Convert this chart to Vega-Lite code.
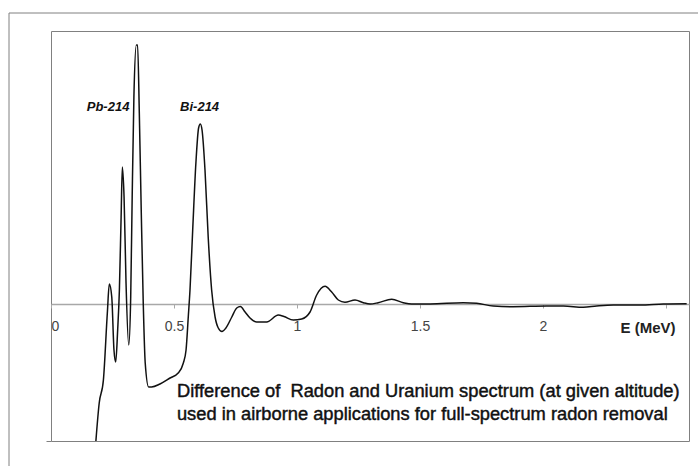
{
  "$schema": "https://vega.github.io/schema/vega-lite/v6.json",
  "autosize": "none",
  "width": 638,
  "height": 410,
  "padding": {"left": 51, "top": 31, "right": 9, "bottom": 25},
  "background": "white",
  "config": {
    "view": {"stroke": "#808080", "strokeWidth": 1},
    "font": "Liberation Sans"
  },
  "datasets": {
    "spectrum": [
      {"E": 0.180, "diff": -145},
      {"E": 0.196, "diff": -99},
      {"E": 0.213, "diff": -76},
      {"E": 0.229, "diff": -9},
      {"E": 0.237, "diff": 20},
      {"E": 0.247, "diff": 7},
      {"E": 0.256, "diff": -46},
      {"E": 0.263, "diff": -58},
      {"E": 0.271, "diff": -26},
      {"E": 0.278, "diff": 14},
      {"E": 0.285, "diff": 87},
      {"E": 0.290, "diff": 137},
      {"E": 0.297, "diff": 107},
      {"E": 0.305, "diff": 21},
      {"E": 0.316, "diff": -41},
      {"E": 0.324, "diff": 7},
      {"E": 0.330, "diff": 107},
      {"E": 0.337, "diff": 207},
      {"E": 0.347, "diff": 259},
      {"E": 0.352, "diff": 259},
      {"E": 0.359, "diff": 191},
      {"E": 0.367, "diff": 91},
      {"E": 0.375, "diff": 1},
      {"E": 0.383, "diff": -59},
      {"E": 0.397, "diff": -83},
      {"E": 0.409, "diff": -83},
      {"E": 0.443, "diff": -80},
      {"E": 0.484, "diff": -74},
      {"E": 0.517, "diff": -69},
      {"E": 0.538, "diff": -59},
      {"E": 0.549, "diff": -46},
      {"E": 0.558, "diff": -13},
      {"E": 0.565, "diff": 14},
      {"E": 0.576, "diff": 74},
      {"E": 0.589, "diff": 141},
      {"E": 0.600, "diff": 176},
      {"E": 0.607, "diff": 180},
      {"E": 0.614, "diff": 174},
      {"E": 0.626, "diff": 134},
      {"E": 0.639, "diff": 67},
      {"E": 0.653, "diff": 14},
      {"E": 0.667, "diff": -13},
      {"E": 0.680, "diff": -24},
      {"E": 0.695, "diff": -27.5},
      {"E": 0.711, "diff": -24},
      {"E": 0.735, "diff": -13},
      {"E": 0.755, "diff": -4},
      {"E": 0.770, "diff": -2.5},
      {"E": 0.789, "diff": -8},
      {"E": 0.809, "diff": -14},
      {"E": 0.836, "diff": -18},
      {"E": 0.877, "diff": -18},
      {"E": 0.924, "diff": -11},
      {"E": 0.947, "diff": -12.5},
      {"E": 0.985, "diff": -16},
      {"E": 1.019, "diff": -15},
      {"E": 1.053, "diff": -8},
      {"E": 1.080, "diff": 9},
      {"E": 1.114, "diff": 17.7},
      {"E": 1.141, "diff": 12},
      {"E": 1.168, "diff": 4},
      {"E": 1.195, "diff": 1.7},
      {"E": 1.236, "diff": 4},
      {"E": 1.270, "diff": 1.3},
      {"E": 1.297, "diff": 0},
      {"E": 1.330, "diff": 1.3},
      {"E": 1.385, "diff": 4.7},
      {"E": 1.432, "diff": 1.3},
      {"E": 1.466, "diff": 0},
      {"E": 1.541, "diff": 0},
      {"E": 1.676, "diff": 1.3},
      {"E": 1.730, "diff": 0.7},
      {"E": 1.798, "diff": -2},
      {"E": 1.879, "diff": -2.7},
      {"E": 2.015, "diff": -2},
      {"E": 2.083, "diff": -2},
      {"E": 2.164, "diff": -3.3},
      {"E": 2.218, "diff": -2},
      {"E": 2.286, "diff": -1},
      {"E": 2.394, "diff": -1},
      {"E": 2.489, "diff": 0},
      {"E": 2.584, "diff": 0.3}
    ],
    "peaks": [
      {"E": 0.232, "diff": 197, "label": "Pb-214"},
      {"E": 0.604, "diff": 197, "label": "Bi-214"}
    ],
    "caption": [
      {"E": 0.512, "diff": -88, "label": "Difference of\u00a0 Radon and Uranium spectrum (at given altitude)"},
      {"E": 0.512, "diff": -111, "label": "used in airborne applications for full-spectrum radon removal"}
    ],
    "unit": [
      {"E": 2.427, "diff": -24, "label": "E (MeV)"}
    ],
    "frame": [
      {"x1": -0.1707, "x2": 3.2, "y1": 291, "y2": -300}
    ]
  },
  "layer": [
    {
      "data": {"name": "frame"},
      "mark": {"type": "rect", "fill": null, "fillOpacity": 0, "stroke": "#808080", "strokeWidth": 1, "clip": false},
      "encoding": {
        "x": {"field": "x1", "type": "quantitative", "scale": {"domain": [0, 2.5935], "nice": false, "zero": false}},
        "x2": {"field": "x2"},
        "y": {"field": "y1", "type": "quantitative", "scale": {"domain": [-137, 273], "nice": false, "zero": false}},
        "y2": {"field": "y2"}
      }
    },
    {
      "data": {"name": "spectrum"},
      "mark": {"type": "line", "color": "#111111", "strokeWidth": 1.5, "interpolate": "monotone", "clip": true},
      "encoding": {
        "x": {
          "field": "E", "type": "quantitative",
          "scale": {"domain": [0, 2.5935], "nice": false, "zero": false},
          "axis": {
            "title": null,
            "offset": -137,
            "values": [0, 0.5, 1, 1.5, 2, 2.5],
            "format": "~g",
            "labelExpr": "datum.value == 2.5 ? '' : datum.label",
            "domainColor": "#a8a8a8",
            "domainWidth": 1.5,
            "tickColor": "#a8a8a8",
            "tickSize": 4,
            "labelPadding": 11,
            "labelFontSize": 14,
            "labelColor": "#444444",
            "labelFlush": true,
            "labelFlushOffset": 0,
            "grid": false
          }
        },
        "y": {
          "field": "diff", "type": "quantitative",
          "scale": {"domain": [-137, 273], "nice": false, "zero": false},
          "axis": {
            "title": null,
            "values": [-137],
            "labels": false,
            "domain": false,
            "tickSize": 5,
            "tickColor": "#808080",
            "grid": false
          }
        }
      }
    },
    {
      "data": {"name": "peaks"},
      "mark": {"type": "text", "fontSize": 13, "fontWeight": "bold", "fontStyle": "italic", "color": "#111111", "align": "center", "baseline": "middle"},
      "encoding": {
        "x": {"field": "E", "type": "quantitative"},
        "y": {"field": "diff", "type": "quantitative"},
        "text": {"field": "label"}
      }
    },
    {
      "data": {"name": "caption"},
      "mark": {"type": "text", "fontSize": 18.3, "color": "#111111", "stroke": "#111111", "strokeWidth": 0.45, "align": "left", "baseline": "middle"},
      "encoding": {
        "x": {"field": "E", "type": "quantitative"},
        "y": {"field": "diff", "type": "quantitative"},
        "text": {"field": "label"}
      }
    },
    {
      "data": {"name": "unit"},
      "mark": {"type": "text", "fontSize": 15, "fontWeight": "bold", "color": "#222222", "align": "center", "baseline": "middle"},
      "encoding": {
        "x": {"field": "E", "type": "quantitative"},
        "y": {"field": "diff", "type": "quantitative"},
        "text": {"field": "label"}
      }
    }
  ]
}
